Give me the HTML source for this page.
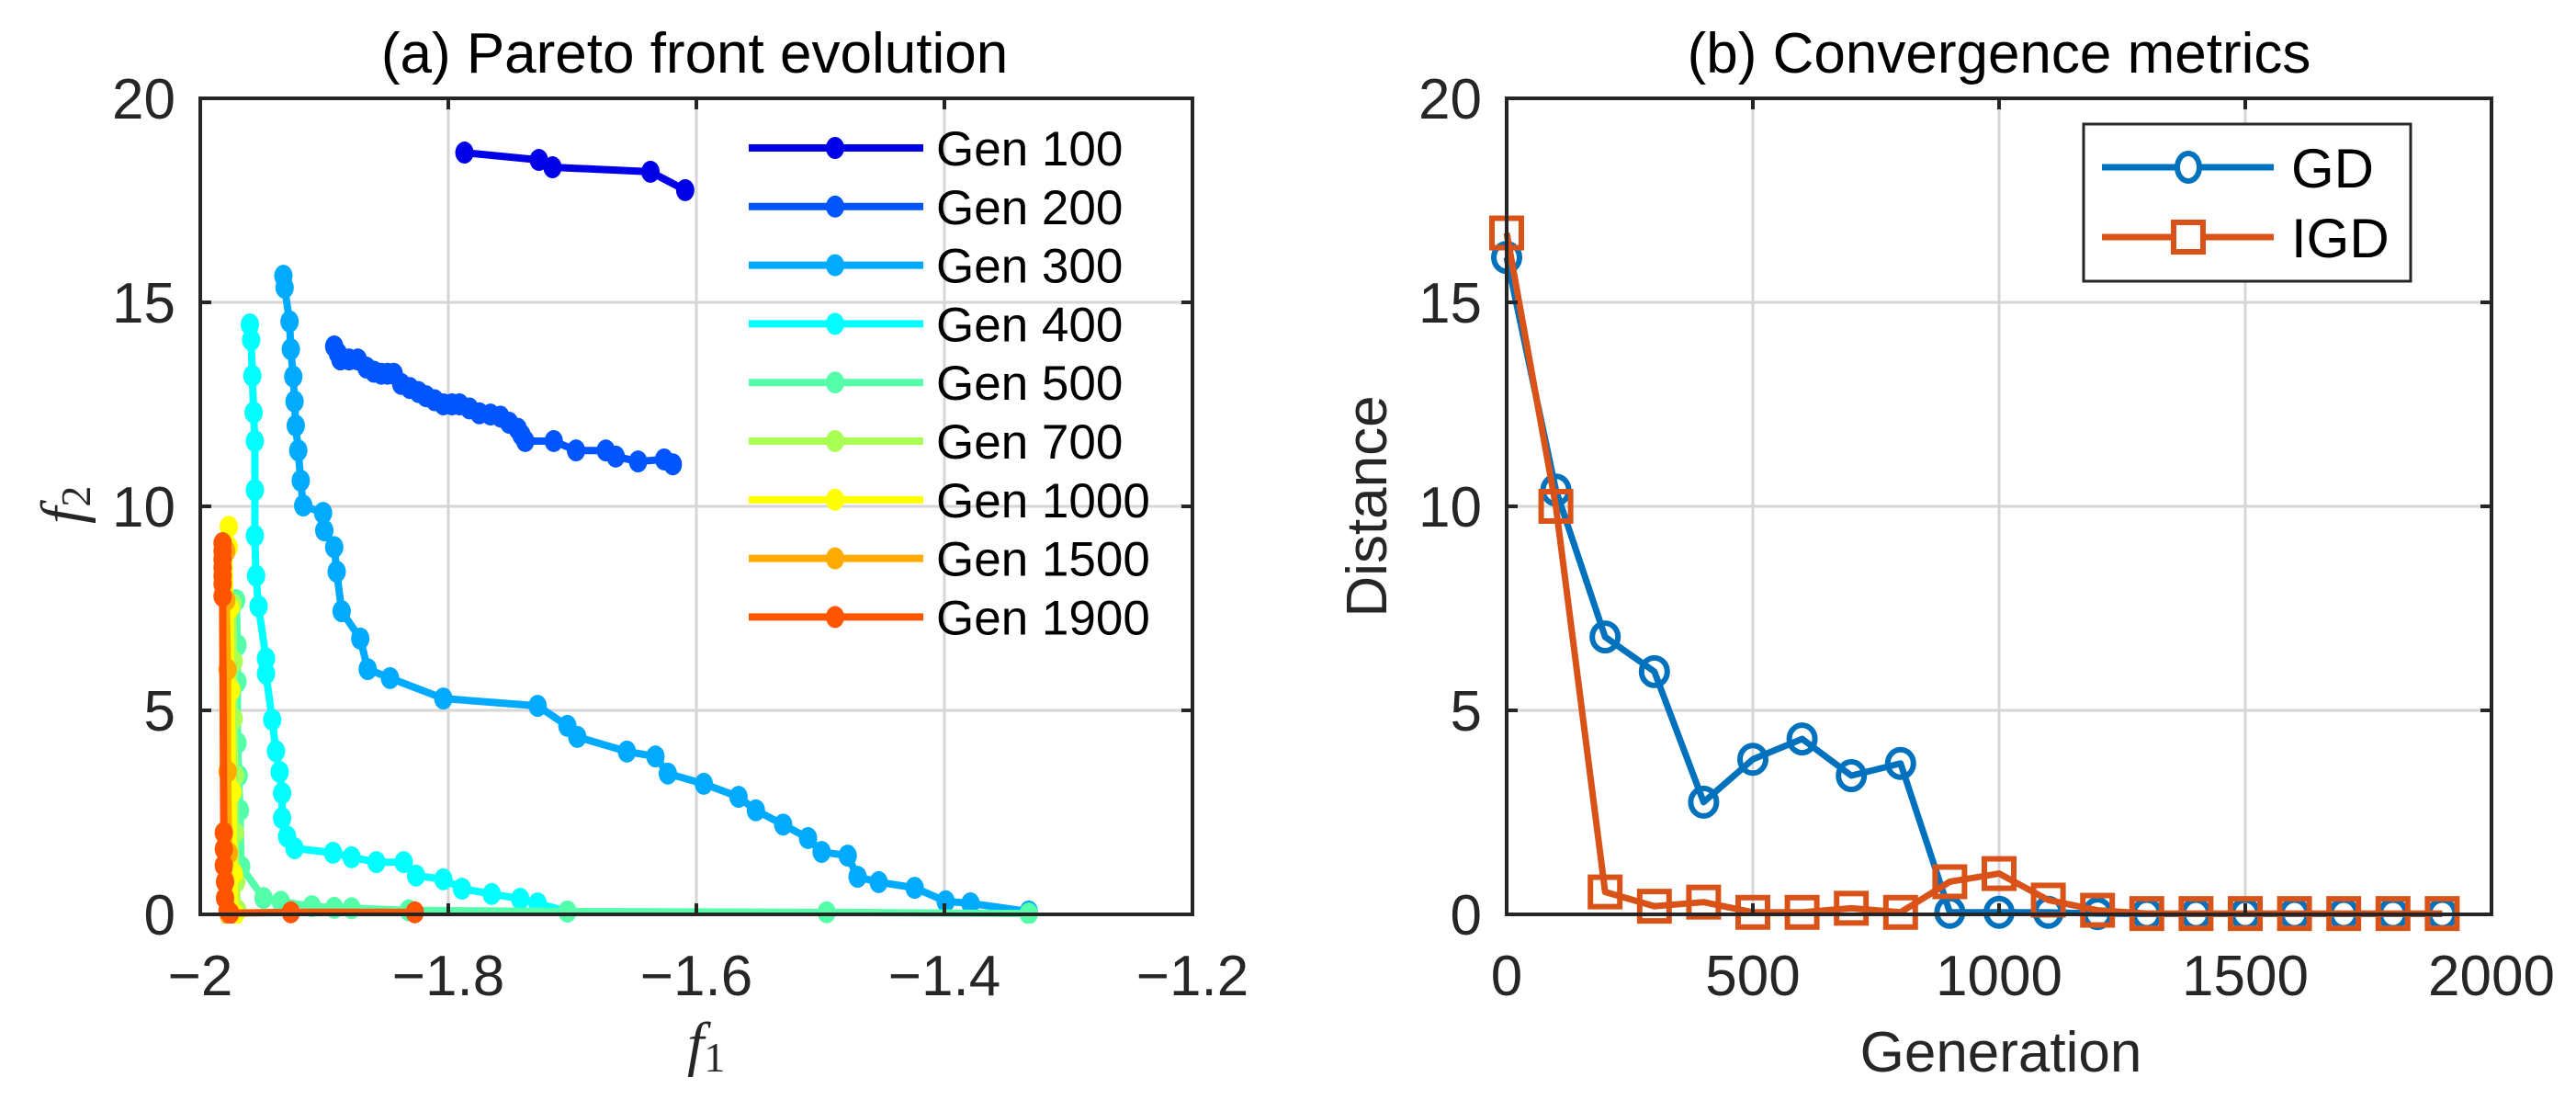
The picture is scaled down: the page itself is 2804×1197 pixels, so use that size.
<!DOCTYPE html>
<html><head><meta charset="utf-8"><style>
html,body{margin:0;padding:0;background:#fff;}
svg{display:block;font-family:"Liberation Sans",sans-serif;}
</style></head><body>
<svg id="fig" width="2804" height="1197" viewBox="0 0 2804 1197" xmlns="http://www.w3.org/2000/svg">
<rect x="0" y="0" width="2804" height="1197" fill="#fff"/>
<g id="pa"></g>
<g id="pb"></g>
</svg>
<script>
// ---------- Panel (a) data ----------
const genLabels = ["Gen 100","Gen 200","Gen 300","Gen 400","Gen 500","Gen 700","Gen 1000","Gen 1500","Gen 1900"];
const genColors = ["#0000e8","#0055ff","#00aaff","#00ffff","#55ffaa","#aaff55","#ffff00","#ffaa00","#ff5500"];
const g100f1 = [-1.787,-1.727,-1.716,-1.637,-1.609];
const g100f2 = [18.67,18.49,18.31,18.2,17.75];
const g200f1 = [-1.892,-1.889,-1.887,-1.88,-1.873,-1.866,-1.86,-1.854,-1.849,-1.844,-1.838,-1.831,-1.824,-1.818,-1.811,-1.804,-1.797,-1.791,-1.783,-1.775,-1.766,-1.758,-1.751,-1.744,-1.741,-1.738,-1.715,-1.697,-1.673,-1.665,-1.647,-1.626,-1.619];
const g200f2 = [13.92,13.75,13.6,13.6,13.6,13.4,13.3,13.25,13.25,13.25,13.0,12.9,12.8,12.7,12.6,12.5,12.5,12.5,12.4,12.28,12.25,12.2,12.05,11.9,11.75,11.6,11.6,11.37,11.37,11.22,11.1,11.15,11.03];
const g300f1 = [-1.933,-1.932,-1.928,-1.927,-1.925,-1.924,-1.923,-1.921,-1.919,-1.917,-1.901,-1.9,-1.892,-1.89,-1.886,-1.871,-1.865,-1.847,-1.804,-1.728,-1.704,-1.696,-1.656,-1.633,-1.623,-1.594,-1.566,-1.552,-1.53,-1.51,-1.499,-1.478,-1.47,-1.453,-1.424,-1.399,-1.379,-1.332];
const g300f2 = [15.65,15.36,14.53,13.85,13.18,12.57,11.98,11.37,10.63,10.02,9.84,9.41,9.0,8.4,7.43,6.76,6.01,5.79,5.29,5.11,4.62,4.35,3.99,3.87,3.45,3.2,2.88,2.55,2.2,1.87,1.53,1.44,0.92,0.79,0.65,0.32,0.27,0.07];
const g400f1 = [-1.96,-1.959,-1.958,-1.957,-1.956,-1.956,-1.956,-1.955,-1.953,-1.947,-1.947,-1.942,-1.939,-1.936,-1.934,-1.934,-1.93,-1.924,-1.893,-1.878,-1.858,-1.836,-1.826,-1.804,-1.789,-1.765,-1.742,-1.728,-1.704];
const g400f2 = [14.46,14.08,13.2,12.3,11.6,10.4,9.28,8.3,7.55,6.27,5.9,4.77,4.0,3.49,2.97,2.36,1.91,1.62,1.51,1.4,1.28,1.28,0.95,0.86,0.63,0.5,0.38,0.27,0.07];
const g500f1 = [-1.971,-1.97,-1.97,-1.97,-1.969,-1.968,-1.967,-1.949,-1.935,-1.91,-1.892,-1.878,-1.832,-1.704,-1.495,-1.332];
const g500f2 = [7.7,6.6,5.7,4.2,3.4,2.55,1.17,0.4,0.31,0.2,0.16,0.15,0.1,0.07,0.05,0.02];
const g700f1 = [-1.974,-1.973,-1.973,-1.972,-1.972,-1.971,-1.97];
const g700f2 = [7.6,6.2,4.8,3.4,2.0,0.8,0.1];
const g1000f1 = [-1.977,-1.977,-1.976,-1.975,-1.974,-1.973,-1.972];
const g1000f2 = [9.5,9.0,7.5,5.5,3.0,1.0,0.0];
const g1500f1 = [-1.979,-1.979,-1.978,-1.978,-1.977,-1.977];
const g1500f2 = [8.9,7.7,6.0,3.5,1.5,0.0];
const g1900f1 = [-1.982,-1.982,-1.982,-1.982,-1.982,-1.982,-1.982,-1.981,-1.981,-1.981,-1.98,-1.98,-1.978,-1.976,-1.927,-1.827];
const g1900f2 = [9.1,8.9,8.7,8.5,8.3,8.1,7.8,2.0,1.6,1.2,0.8,0.4,0.1,0.03,0.05,0.05];
const genF1 = [g100f1,g200f1,g300f1,g400f1,g500f1,g700f1,g1000f1,g1500f1,g1900f1];
const genF2 = [g100f2,g200f2,g300f2,g400f2,g500f2,g700f2,g1000f2,g1500f2,g1900f2];
const aXTicks = [-2,-1.8,-1.6,-1.4,-1.2];
const aXTickLabels = ["\u22122","\u22121.8","\u22121.6","\u22121.4","\u22121.2"];
const yTicks = [0,5,10,15,20];
const yTickLabels = ["0","5","10","15","20"];

// ---------- Panel (b) data ----------
const generations = [0,100,200,300,400,500,600,700,800,900,1000,1100,1200,1300,1400,1500,1600,1700,1800,1900];
const gdValues = [16.1,10.4,6.8,5.95,2.75,3.8,4.3,3.4,3.7,0.05,0.05,0.05,0.02,0.01,0.01,0.01,0.01,0.01,0.01,0.01];
const igdValues = [16.7,10.0,0.55,0.2,0.3,0.05,0.05,0.15,0.05,0.8,1.0,0.35,0.1,0.02,0.02,0.02,0.02,0.02,0.02,0.02];
const bXTicks = [0,500,1000,1500,2000];
const bXTickLabels = ["0","500","1000","1500","2000"];

const NS = "http://www.w3.org/2000/svg";
function mk(tag, attrs, parent){ const e=document.createElementNS(NS,tag); for(const k in attrs) e.setAttribute(k,attrs[k]); parent.appendChild(e); return e; }

const plotTop=107, plotBot=995;
const aL=218, aR=1298, bL=1640, bR=2712;
const yS = v => plotBot - (v/20)*(plotBot-plotTop);
const axS = v => aL + (v+2)/0.8*(aR-aL);
const bxS = v => bL + v/2000*(bR-bL);

function frame(g, L, R, xt, xs, xl, prefix){
  xt.forEach((tk,i)=>{ const x=xs(tk);
    if(i>0 && i<xt.length-1){ const gl=mk("line",{x1:x,y1:plotTop,x2:x,y2:plotBot,stroke:"#d6d6d6","stroke-width":3},g);
      
       }
  });
  yTicks.forEach((tk,i)=>{ const y=yS(tk);
    if(i>0 && i<yTicks.length-1){ const gl=mk("line",{x1:L,y1:y,x2:R,y2:y,stroke:"#d6d6d6","stroke-width":3},g);
      
       }
  });
}
function frameBox(g, L, R, xt, xs, xl, prefix){
  const box=mk("rect",{x:L,y:plotTop,width:R-L,height:plotBot-plotTop,fill:"none",stroke:"#262626","stroke-width":4},g);
  
  
  xt.forEach((tk,i)=>{ const x=xs(tk);
    mk("line",{x1:x,y1:plotBot,x2:x,y2:plotBot-12,stroke:"#262626","stroke-width":4},g);
    mk("line",{x1:x,y1:plotTop,x2:x,y2:plotTop+12,stroke:"#262626","stroke-width":4},g);
    const tx=mk("text",{x:x,y:1083,"font-size":62,"text-anchor":"middle",fill:"#262626"},g);
    tx.textContent=xl[i];
    
    
  });
  yTicks.forEach((tk,i)=>{ const y=yS(tk);
    mk("line",{x1:L,y1:y,x2:L+12,y2:y,stroke:"#262626","stroke-width":4},g);
    mk("line",{x1:R,y1:y,x2:R-12,y2:y,stroke:"#262626","stroke-width":4},g);
    const tx=mk("text",{x:L-27,y:y+22,"font-size":62,"text-anchor":"end",fill:"#262626"},g);
    tx.textContent=yTickLabels[i];
    
    
  });
}

// ---------- Panel (a) ----------
const pa=document.getElementById("pa");
frame(pa,aL,aR,aXTicks,axS,aXTickLabels,"a");
const clipA=mk("clipPath",{id:"ca"},pa); mk("rect",{x:aL,y:plotTop-20,width:aR-aL,height:plotBot-plotTop+30},clipA);
const sa=mk("g",{"clip-path":"url(#ca)"},pa);
genF1.forEach((xs,gi)=>{
  const ys=genF2[gi];
  const sg=mk("g",{},sa);
  
  
  const pts=xs.map((v,i)=>axS(v).toFixed(1)+","+yS(ys[i]).toFixed(1)).join(" ");
  const pl=mk("polyline",{points:pts,fill:"none",stroke:genColors[gi],"stroke-width":8,"stroke-linejoin":"round"},sg);
  
  
  xs.forEach((v,i)=>{
    const c=mk("ellipse",{cx:axS(v),cy:yS(ys[i]),rx:10,ry:12,fill:genColors[gi]},sg);
    
    
  });
});
frameBox(pa,aL,aR,aXTicks,axS,aXTickLabels,"a");
const lga=mk("g",{},pa);


genLabels.forEach((lab,i)=>{
  const y=161+i*63.8;
  const e=mk("g",{},lga);
  
  
  mk("line",{x1:815,y1:y,x2:1005,y2:y,stroke:genColors[i],"stroke-width":8},e);
  mk("ellipse",{cx:909,cy:y,rx:10,ry:12,fill:genColors[i]},e);
  const tt=mk("text",{x:1019,y:y+19,"font-size":53,fill:"#000"},e);
  tt.textContent=lab;
});
let t=mk("text",{x:756,y:79,"font-size":62,"text-anchor":"middle",fill:"#000"},pa);
t.textContent="(a) Pareto front evolution";


t=mk("text",{x:748,y:1158,"font-size":66,"font-family":"Liberation Serif, serif","font-style":"italic",fill:"#262626"},pa);
t.innerHTML='f<tspan font-style="normal" font-size="46" dy="8">1</tspan>';


t=mk("text",{x:0,y:0,"font-size":66,"font-family":"Liberation Serif, serif","font-style":"italic",fill:"#262626",transform:"translate(90,570) rotate(-90)"},pa);
t.innerHTML='f<tspan font-style="normal" font-size="46" dy="8">2</tspan>';



// ---------- Panel (b) ----------
const pb=document.getElementById("pb");
frame(pb,bL,bR,bXTicks,bxS,bXTickLabels,"b");
const gdG=mk("g",{},pb);


mk("polyline",{points:generations.map((g,i)=>bxS(g)+","+yS(gdValues[i])).join(" "),fill:"none",stroke:"#0072bd","stroke-width":7,"stroke-linejoin":"round"},gdG);
generations.forEach((g,i)=>{
  const c=mk("ellipse",{cx:bxS(g),cy:yS(gdValues[i]),rx:14,ry:15,fill:"none",stroke:"#0072bd","stroke-width":6},gdG);
  
  
});
const igdG=mk("g",{},pb);


mk("polyline",{points:generations.map((g,i)=>bxS(g)+","+yS(igdValues[i])).join(" "),fill:"none",stroke:"#d95319","stroke-width":7,"stroke-linejoin":"round"},igdG);
generations.forEach((g,i)=>{
  const s=mk("rect",{x:bxS(g)-16,y:yS(igdValues[i])-16,width:32,height:32,fill:"none",stroke:"#d95319","stroke-width":6},igdG);
  
  
});
frameBox(pb,bL,bR,bXTicks,bxS,bXTickLabels,"b");
const lgb=mk("g",{},pb);


mk("rect",{x:2268,y:135,width:356,height:171,fill:"#fff",stroke:"#262626","stroke-width":3},lgb);
let e1=mk("g",{},lgb);


mk("line",{x1:2288,y1:182,x2:2475,y2:182,stroke:"#0072bd","stroke-width":7},e1);
mk("ellipse",{cx:2382,cy:182,rx:12,ry:15,fill:"#fff",stroke:"#0072bd","stroke-width":6},e1);
t=mk("text",{x:2494,y:204,"font-size":60,fill:"#000"},e1); t.textContent="GD";
let e2=mk("g",{},lgb);


mk("line",{x1:2288,y1:258,x2:2475,y2:258,stroke:"#d95319","stroke-width":7},e2);
mk("rect",{x:2366,y:242,width:32,height:32,fill:"#fff",stroke:"#d95319","stroke-width":6},e2);
t=mk("text",{x:2494,y:280,"font-size":60,fill:"#000"},e2); t.textContent="IGD";
t=mk("text",{x:2176,y:79,"font-size":62,"text-anchor":"middle",fill:"#000"},pb);
t.textContent="(b) Convergence metrics";


t=mk("text",{x:2178,y:1166,"font-size":62,"text-anchor":"middle",fill:"#262626"},pb);
t.textContent="Generation";


t=mk("text",{x:0,y:0,"font-size":62,"text-anchor":"middle",fill:"#262626",transform:"translate(1509,551) rotate(-90)"},pb);
t.textContent="Distance";


</script>
</body></html>
